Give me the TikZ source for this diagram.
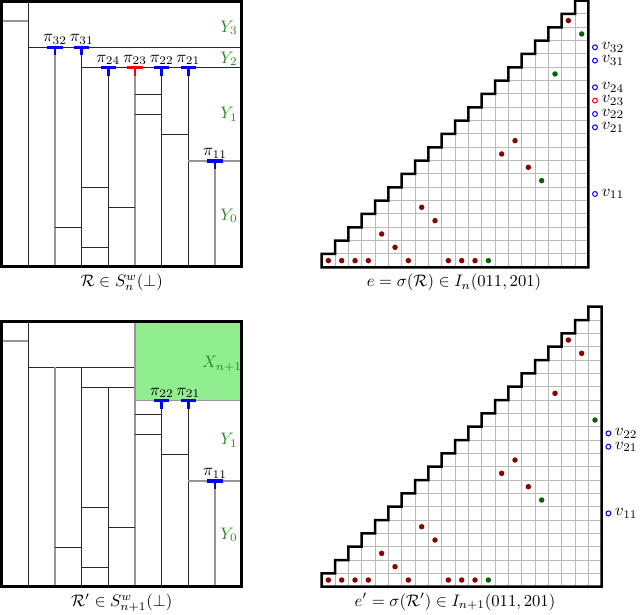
\documentclass[tikz,border=0pt]{standalone}
\usepackage{amsmath,amssymb}
\definecolor{ygreen}{RGB}{34,139,34}
\definecolor{lgreen}{RGB}{144,238,144}
\definecolor{dred}{RGB}{139,0,0}
\definecolor{dgreen}{RGB}{0,100,0}
\definecolor{dline}{RGB}{40,40,40}
\definecolor{gline}{RGB}{150,150,150}
\definecolor{gridc}{RGB}{185,185,185}
\tikzset{
  dk/.style={draw=dline, line width=0.6pt},
  gr/.style={draw=gline, line width=0.75pt},
  border/.style={draw=black, line width=1.6pt},
  stair/.style={draw=black, line width=1.5pt},
  gridl/.style={draw=gridc, line width=0.6pt},
  tee/.pic={\fill (-7.7,-1.6) rectangle (7.7,1.6); \fill (-1.3,0) rectangle (1.3,8);},
  plab/.style={anchor=base, inner sep=0pt},
  ylab/.style={text=ygreen, inner sep=0pt},
  vlab/.style={anchor=west, inner sep=0pt},
  vcirc/.style={draw=blue, fill=white, line width=0.6pt},
  captxt/.style={anchor=base, inner sep=0pt}
}
\begin{document}
\begin{tikzpicture}[x=0.6pt,y=-0.6pt]
\useasboundingbox (0,0) rectangle (644,614);

% ---------- top-left rectangulation ----------
\draw[gr] (1.7,21) -- (28.3,21);
\draw[dk] (28.3,1.7) -- (28.3,266.7);
\draw[dk] (28.3,47.3) -- (241.7,47.3);
\draw[gr] (55,47.3) -- (55,266.7);
\draw[dk] (81.7,47.3) -- (81.7,266.7);
\draw[dk] (81.7,67.7) -- (241.7,67.7);
\draw[dk] (108.3,67.7) -- (108.3,266.7);
\draw[gr] (135,67.7) -- (135,266.7);
\draw[dk] (161.7,67.7) -- (161.7,266.7);
\draw[dk] (188.3,67.7) -- (188.3,266.7);
\draw[dk] (135,94.3) -- (161.7,94.3);
\draw[dk] (135,114.3) -- (161.7,114.3);
\draw[dk] (161.7,134.3) -- (188.3,134.3);
\draw[gr] (188.3,161) -- (241.7,161);
\draw[gr] (215,161) -- (215,266.7);
\draw[dk] (81.7,187.7) -- (108.3,187.7);
\draw[dk] (108.3,207.7) -- (135,207.7);
\draw[dk] (55,227.7) -- (81.7,227.7);
\draw[dk] (81.7,247.7) -- (108.3,247.7);
\draw[border] (1.7,1.7) rectangle (241.7,266.7);

\pic[blue] at (55,47.3) {tee};
\pic[blue] at (81.7,47.3) {tee};
\pic[blue] at (108.3,67.7) {tee};
\pic[red] at (135,67.7) {tee};
\pic[blue] at (161.7,67.7) {tee};
\pic[blue] at (188.3,67.7) {tee};
\pic[blue] at (215,161) {tee};

\node[plab] (p32) at (55,41.8) {$\pi_{32}$};
\node[plab] (p31) at (81.7,41.8) {$\pi_{31}$};
\node[plab] (p24) at (108.3,62.2) {$\pi_{24}$};
\node[plab] (p23) at (135,62.2) {$\pi_{23}$};
\node[plab] (p22) at (161.7,62.2) {$\pi_{22}$};
\node[plab] (p21) at (188.3,62.2) {$\pi_{21}$};
\node[plab] (p11) at (215,155.5) {$\pi_{11}$};

\node[ylab] (y3) at (229,28) {$Y_3$};
\node[ylab] (y2) at (229,59) {$Y_2$};
\node[ylab] (y1) at (229,114.5) {$Y_1$};
\node[ylab] (y0) at (229,216) {$Y_0$};

\node[captxt] (capA) at (121.7,286.7) {$\mathcal{R} \in S_n^w(\perp)$};

% ---------- bottom-left rectangulation ----------
\begin{scope}[shift={(0,320)}]
\fill[lgreen] (135,1.7) rectangle (241.7,80.7);
\draw[gr] (1.7,21) -- (28.3,21);
\draw[dk] (28.3,1.7) -- (28.3,266.7);
\draw[dk] (28.3,47.3) -- (135,47.3);
\draw[gr] (55,47.3) -- (55,266.7);
\draw[dk] (81.7,47.3) -- (81.7,266.7);
\draw[dk] (81.7,67.3) -- (135,67.3);
\draw[dk] (108.3,67.3) -- (108.3,266.7);
\draw[gr] (135,1.7) -- (135,266.7);
\draw[gr] (135,80.7) -- (241.7,80.7);
\draw[dk] (161.7,80.7) -- (161.7,266.7);
\draw[dk] (188.3,80.7) -- (188.3,266.7);
\draw[dk] (135,94.3) -- (161.7,94.3);
\draw[dk] (135,114.3) -- (161.7,114.3);
\draw[dk] (161.7,134.3) -- (188.3,134.3);
\draw[gr] (188.3,161) -- (241.7,161);
\draw[gr] (215,161) -- (215,266.7);
\draw[dk] (81.7,187.7) -- (108.3,187.7);
\draw[dk] (108.3,207.7) -- (135,207.7);
\draw[dk] (55,227.7) -- (81.7,227.7);
\draw[dk] (81.7,247.7) -- (108.3,247.7);
\draw[border] (1.7,1.7) rectangle (241.7,266.7);

\pic[blue] at (161.7,80.7) {tee};
\pic[blue] at (188.3,80.7) {tee};
\pic[blue] at (215,161) {tee};

\node[plab] (q22) at (161.7,75.2) {$\pi_{22}$};
\node[plab] (q21) at (188.3,75.2) {$\pi_{21}$};
\node[plab] (q11) at (215,155.5) {$\pi_{11}$};

\node[ylab] (xn) at (222,44) {$X_{n+1}$};
\node[ylab] (z1) at (229,120.5) {$Y_1$};
\node[ylab] (z0) at (229,215) {$Y_0$};
\end{scope}
\node[captxt] (capB) at (121.7,606.7) {$\mathcal{R}' \in S_{n+1}^w(\perp)$};

% ---------- top-right inversion sequence grid (n=20) ----------
\foreach \r in {1,...,19}
  \draw[gridl] ({321.7+(\r-1)*13.333},{267.3-\r*13.333}) -- ({321.7+20*13.333},{267.3-\r*13.333});
\foreach \c in {1,...,19}
  \draw[gridl] ({321.7+\c*13.333},267.3) -- ({321.7+\c*13.333},{267.3-\c*13.333});
\draw[stair] (321.7,267.3) \foreach \k in {1,...,20}{ -- ++(0,-13.333) -- ++(13.333,0)} -- ({321.7+20*13.333},267.3) -- cycle;
\foreach \c/\r/\col in {1/0/dred,2/0/dred,3/0/dred,4/0/dred,5/2/dred,6/1/dred,7/0/dred,8/4/dred,9/3/dred,10/0/dred,11/0/dred,12/0/dred,13/0/dgreen,14/8/dred,15/9/dred,16/7/dred,17/6/dgreen,18/14/dgreen,19/18/dred,20/17/dgreen}
  \fill[\col] ({315.03+13.333*\c},{260.63-13.333*\r}) circle[radius=1.65pt];
\foreach \r/\lab/\col in {16/32/blue,15/31/blue,13/24/blue,12/23/red,11/22/blue,10/21/blue,5/11/blue}{
  \draw[vcirc,draw=\col] (595,{260.63-13.333*\r}) circle[radius=1.45pt];
  \node[vlab] (v\lab) at (601.5,{260.63-13.333*\r}) {$v_{\lab}$};
}
\node[captxt] (capC) at (454,286.7) {$e = \sigma(\mathcal{R}) \in I_n(011,201)$};

% ---------- bottom-right inversion sequence grid (n=21) ----------
\foreach \r in {1,...,20}
  \draw[gridl] ({321.7+(\r-1)*13.333},{586.7-\r*13.333}) -- ({321.7+21*13.333},{586.7-\r*13.333});
\foreach \c in {1,...,20}
  \draw[gridl] ({321.7+\c*13.333},586.7) -- ({321.7+\c*13.333},{586.7-\c*13.333});
\draw[stair] (321.7,586.7) \foreach \k in {1,...,21}{ -- ++(0,-13.333) -- ++(13.333,0)} -- ({321.7+21*13.333},586.7) -- cycle;
\foreach \c/\r/\col in {1/0/dred,2/0/dred,3/0/dred,4/0/dred,5/2/dred,6/1/dred,7/0/dred,8/4/dred,9/3/dred,10/0/dred,11/0/dred,12/0/dred,13/0/dgreen,14/8/dred,15/9/dred,16/7/dred,17/6/dgreen,18/14/dred,19/18/dred,20/17/dred,21/12/dgreen}
  \fill[\col] ({315.03+13.333*\c},{580.03-13.333*\r}) circle[radius=1.65pt];
\foreach \r/\lab in {11/22,10/21,5/11}{
  \draw[vcirc] (608.4,{580.03-13.333*\r}) circle[radius=1.45pt];
  \node[vlab] (w\lab) at (614.9,{580.03-13.333*\r}) {$v_{\lab}$};
}
\node[captxt] (capD) at (455,606) {$e' = \sigma(\mathcal{R}') \in I_{n+1}(011,201)$};
\end{tikzpicture}
\end{document}
